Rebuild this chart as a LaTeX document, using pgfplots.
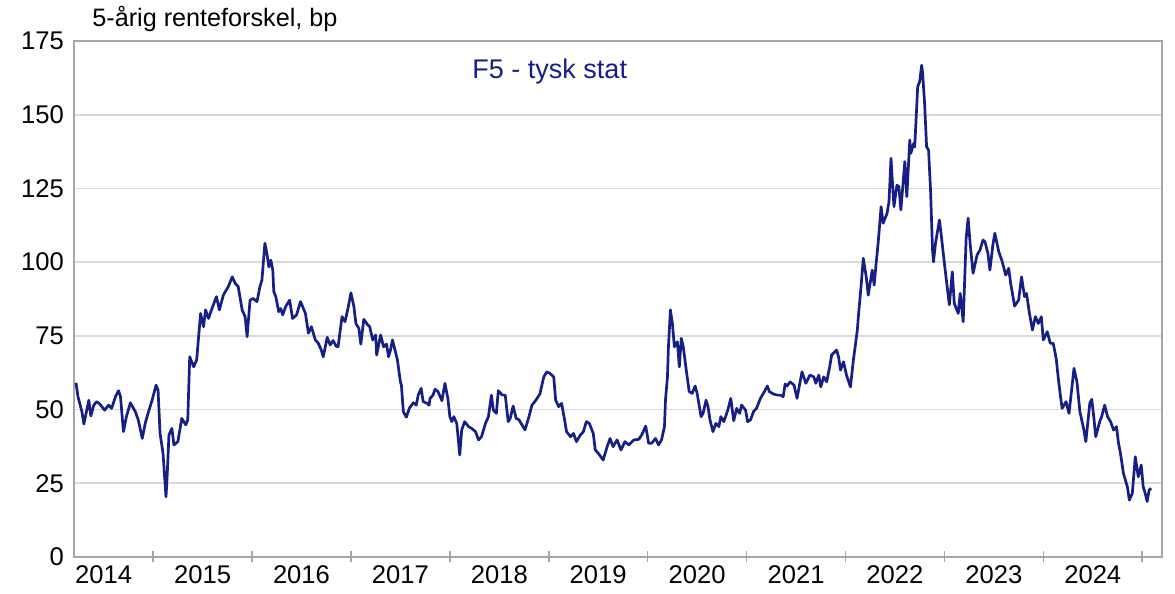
\documentclass[border=0pt]{standalone}
\usepackage{pgfplots}
\pgfplotsset{compat=1.18}
\usepackage{pgfplotstable}
\usepackage{fontspec}
\setmainfont{Liberation Sans}
\definecolor{navy}{RGB}{22,32,132}
\definecolor{axisgrey}{RGB}{166,166,166}
\definecolor{gridgrey}{RGB}{217,217,217}
\pgfplotstableread{
x y
2014.22 59.1
2014.24 54.4
2014.28 49.3
2014.30 45.1
2014.35 53.2
2014.37 47.8
2014.40 51.5
2014.43 52.7
2014.46 51.9
2014.51 49.8
2014.55 51.5
2014.58 50.4
2014.62 54.4
2014.65 56.4
2014.67 54.4
2014.70 42.5
2014.73 47.6
2014.77 52.3
2014.82 49.3
2014.85 46.5
2014.89 40.2
2014.92 45.3
2014.95 48.9
2014.99 53.2
2015.03 58.3
2015.05 56.6
2015.07 41.9
2015.10 35.2
2015.13 20.4
2015.14 26.1
2015.16 41.4
2015.19 43.6
2015.21 38.0
2015.25 39.1
2015.29 47.0
2015.33 44.8
2015.35 46.5
2015.37 67.9
2015.41 64.5
2015.44 66.8
2015.48 82.6
2015.51 78.1
2015.53 83.8
2015.56 80.9
2015.59 83.8
2015.64 88.3
2015.67 83.8
2015.71 88.8
2015.76 91.7
2015.80 95.0
2015.83 92.8
2015.86 91.7
2015.90 83.8
2015.93 81.5
2015.95 74.7
2015.98 87.1
2016.01 87.7
2016.05 86.6
2016.08 91.7
2016.10 93.9
2016.13 106.4
2016.15 103.0
2016.17 98.4
2016.19 100.7
2016.21 97.3
2016.22 90.0
2016.24 88.3
2016.27 83.2
2016.29 84.3
2016.31 82.1
2016.34 84.9
2016.38 87.1
2016.41 80.9
2016.45 82.1
2016.49 86.6
2016.54 82.6
2016.57 75.9
2016.60 78.1
2016.64 73.6
2016.67 72.5
2016.70 70.2
2016.72 67.9
2016.76 74.5
2016.79 71.9
2016.82 73.4
2016.85 71.5
2016.87 71.3
2016.91 81.5
2016.94 79.8
2016.97 84.3
2017.00 89.6
2017.03 84.9
2017.05 79.2
2017.08 77.5
2017.10 72.2
2017.13 80.6
2017.17 78.7
2017.19 78.1
2017.22 73.6
2017.25 75.3
2017.26 68.5
2017.30 75.3
2017.33 71.3
2017.36 72.2
2017.38 67.9
2017.40 70.2
2017.42 73.6
2017.45 69.6
2017.47 66.8
2017.50 59.4
2017.51 58.3
2017.53 49.3
2017.56 47.4
2017.59 50.4
2017.63 52.3
2017.66 51.5
2017.68 54.9
2017.71 57.2
2017.73 52.7
2017.77 52.1
2017.79 51.5
2017.80 53.8
2017.83 54.9
2017.85 56.9
2017.88 56.1
2017.92 53.0
2017.95 58.9
2017.98 53.8
2018.00 47.6
2018.02 45.9
2018.04 47.6
2018.07 45.3
2018.10 34.6
2018.12 43.1
2018.15 45.9
2018.19 44.2
2018.22 43.6
2018.26 42.5
2018.29 39.7
2018.32 40.8
2018.36 45.3
2018.39 47.6
2018.42 54.9
2018.44 49.8
2018.47 48.7
2018.49 56.4
2018.53 54.9
2018.56 54.9
2018.59 45.9
2018.61 47.0
2018.64 51.2
2018.67 47.0
2018.70 46.5
2018.74 44.2
2018.76 43.1
2018.80 47.6
2018.83 51.5
2018.87 53.2
2018.91 55.3
2018.95 61.1
2018.98 62.8
2019.01 62.3
2019.05 61.1
2019.07 53.2
2019.10 51.0
2019.13 52.1
2019.16 46.5
2019.18 42.5
2019.22 40.8
2019.25 41.9
2019.28 39.1
2019.32 41.4
2019.35 42.5
2019.38 45.9
2019.41 45.3
2019.45 41.9
2019.47 36.3
2019.50 35.2
2019.55 32.9
2019.59 37.4
2019.62 40.2
2019.65 37.4
2019.69 39.7
2019.73 36.3
2019.77 39.1
2019.81 38.0
2019.86 39.7
2019.91 39.9
2019.94 41.4
2019.98 44.4
2020.01 38.6
2020.04 38.6
2020.08 40.2
2020.11 38.0
2020.14 39.7
2020.17 44.2
2020.18 53.2
2020.20 61.1
2020.21 71.3
2020.23 83.8
2020.25 79.2
2020.27 71.3
2020.30 73.0
2020.32 64.5
2020.34 74.2
2020.36 71.3
2020.39 63.4
2020.42 56.1
2020.45 55.5
2020.48 58.0
2020.50 55.5
2020.54 47.6
2020.56 48.7
2020.59 53.2
2020.61 51.0
2020.63 46.5
2020.66 42.5
2020.69 45.3
2020.72 44.2
2020.74 47.6
2020.77 45.9
2020.81 49.8
2020.84 53.8
2020.87 46.2
2020.90 50.4
2020.93 48.7
2020.95 51.5
2020.99 49.8
2021.01 45.9
2021.04 46.5
2021.07 49.3
2021.10 50.4
2021.14 53.8
2021.17 55.5
2021.21 58.0
2021.23 56.1
2021.27 55.3
2021.31 54.9
2021.34 54.9
2021.37 54.4
2021.39 58.7
2021.41 58.0
2021.44 59.4
2021.48 58.3
2021.51 53.8
2021.56 62.8
2021.60 58.9
2021.64 61.7
2021.68 61.1
2021.70 58.9
2021.73 61.7
2021.75 57.7
2021.78 61.1
2021.81 59.4
2021.84 64.5
2021.86 68.5
2021.91 70.2
2021.93 67.9
2021.95 63.4
2021.98 66.2
2022.01 61.7
2022.05 57.7
2022.08 66.8
2022.12 77.0
2022.13 81.5
2022.16 92.8
2022.18 101.3
2022.21 95.0
2022.23 88.8
2022.27 97.3
2022.29 92.2
2022.31 99.6
2022.33 106.4
2022.36 118.8
2022.38 113.2
2022.42 116.5
2022.44 120.5
2022.46 135.2
2022.49 118.8
2022.52 126.1
2022.54 125.6
2022.56 117.7
2022.60 134.1
2022.62 122.2
2022.65 141.4
2022.66 136.9
2022.69 140.3
2022.70 139.1
2022.73 159.5
2022.75 161.2
2022.77 166.8
2022.78 164.0
2022.80 153.8
2022.82 139.1
2022.84 138.0
2022.86 124.5
2022.88 104.1
2022.89 100.1
2022.91 106.4
2022.95 114.3
2022.97 108.6
2023.00 99.6
2023.02 93.9
2023.05 85.5
2023.08 96.7
2023.10 86.0
2023.14 82.6
2023.16 89.4
2023.19 79.8
2023.22 108.1
2023.24 114.9
2023.26 106.4
2023.29 96.2
2023.33 102.4
2023.36 104.1
2023.39 107.5
2023.41 106.9
2023.44 103.0
2023.46 97.3
2023.49 105.8
2023.51 109.8
2023.55 103.5
2023.58 100.7
2023.62 95.6
2023.65 97.9
2023.67 92.8
2023.71 85.1
2023.75 87.1
2023.78 95.0
2023.81 88.3
2023.83 89.4
2023.86 82.6
2023.89 77.0
2023.92 81.5
2023.95 79.2
2023.98 81.5
2024.00 73.6
2024.04 76.4
2024.07 72.5
2024.10 72.5
2024.13 67.4
2024.15 61.1
2024.17 55.5
2024.19 50.4
2024.23 52.7
2024.26 48.7
2024.29 57.7
2024.31 64.0
2024.34 59.4
2024.37 49.3
2024.41 43.1
2024.43 39.1
2024.47 52.1
2024.49 53.5
2024.51 47.6
2024.53 40.8
2024.57 45.9
2024.59 47.6
2024.62 51.5
2024.65 47.6
2024.68 45.9
2024.71 43.1
2024.74 44.2
2024.76 38.6
2024.78 35.2
2024.81 28.4
2024.85 23.8
2024.87 19.3
2024.90 21.6
2024.93 34.0
2024.96 27.2
2024.99 31.2
2025.01 23.8
2025.03 21.6
2025.05 18.8
2025.07 22.7
2025.09 23.3
}\spread
\begin{document}
\begin{tikzpicture}
\path[use as bounding box] (-37pt,-18.5pt) rectangle (550.5pt,278.5pt);
\begin{axis}[
  name=ax,
  at={(0pt,0pt)}, anchor=south west,
  scale only axis, width=544pt, height=258pt,
  xmin=2014.2, xmax=2025.2, ymin=0, ymax=175,
  axis line style={axisgrey, line width=0.8pt},
  ytick={0,25,...,175}, ytick style={draw=none},
  ymajorgrids, major grid style={gridgrey, line width=0.8pt},
  xtick={2015,2016,2017,2018,2019,2020,2021,2022,2023,2024,2025},
  xticklabels={},
  xtick pos=bottom,
  xtick align=center, major tick length=5.5pt,
  xtick style={axisgrey, line width=0.8pt},
  extra x ticks={2014.5,2015.5,2016.5,2017.5,2018.5,2019.5,2020.5,2021.5,2022.5,2023.5,2024.5},
  extra x tick labels={2014,2015,2016,2017,2018,2019,2020,2021,2022,2023,2024},
  extra x tick style={major tick length=0pt, grid=none},
  tick label style={font=\fontsize{12.8}{15}\selectfont, black},
  /pgf/number format/assume math mode=true,
  yticklabel style={xshift=-1.5pt},
  xticklabel style={yshift=-1pt},
]
\addplot[navy, line width=1.35pt, line join=round] table[x=x,y=y] {\spread};
\node[navy, anchor=base, font=\fontsize{13.5}{16}\selectfont] at (axis cs:2019.01,162.4) {F5 - tysk stat};
\end{axis}
\node[anchor=base west, inner sep=0pt, font=\fontsize{12.6}{15}\selectfont] at ([xshift=9pt,yshift=7pt]ax.north west) {5-årig renteforskel, bp};
\end{tikzpicture}
\end{document}
